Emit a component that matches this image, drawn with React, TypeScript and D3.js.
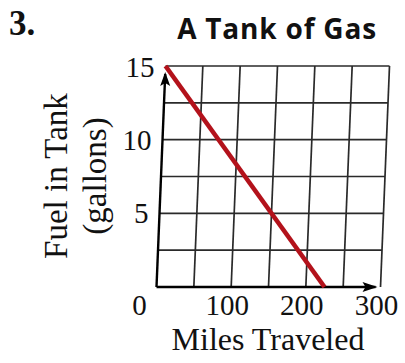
import React from "react";
import * as d3 from "d3";

const milesTicks = [0, 50, 100, 150, 200, 250, 300];
const fuelTicks = [0, 2.5, 5, 7.5, 10, 12.5, 15];
const xTickLabels = [0, 100, 200, 300];
const yTickLabels = [5, 10, 15];
const tankLine = [
  { miles: 0, fuel: 15 },
  { miles: 225, fuel: 0 },
];

const W = 405;
const H = 363;

export default function App() {
  const x = d3.scaleLinear().domain([0, 300]).range([156.5, 380.5]);
  const y = d3.scaleLinear().domain([0, 15]).range([287, 66]);
  const k = 9 / 221; // slight scan skew
  const px = (m: number, f: number) => x(m) + k * (y(0) - y(f));
  const line = d3
    .line<{ miles: number; fuel: number }>()
    .x((d) => px(d.miles, d.fuel))
    .y((d) => y(d.fuel));
  const serif = "'Liberation Serif', 'DejaVu Serif', serif";

  const tipX = px(300, 0) - 5;
  const tipY = y(15) + 6;
  const axTopX = px(0, 15) - 0.3;

  return (
    <svg width={W} height={H} viewBox={`0 0 ${W} ${H}`} style={{ display: "block", position: "absolute", left: 0, top: 0, background: "#fff" }}>
      <rect width={W} height={H} fill="#fff" />
      <text x={9} y={35} fontFamily={serif} fontWeight="bold" fontSize={35} fill="#111">3.</text>
      <text x={277} y={39} textAnchor="middle" fontFamily="'Open Sans', sans-serif" fontWeight="bold" fontSize={28} letterSpacing={0.8} fill="#111">A Tank of Gas</text>

      {/* grid */}
      <g stroke="#2a2a2a" strokeWidth={1.7} fill="none">
        {fuelTicks.slice(1).map((f) => (
          <line key={"h" + f} x1={px(0, f)} x2={px(300, f)} y1={y(f)} y2={y(f)} />
        ))}
        {milesTicks.slice(1).map((m) => (
          <line key={"v" + m} x1={px(m, 0)} x2={px(m, 15)} y1={y(0)} y2={y(15)} />
        ))}
      </g>

      {/* axes */}
      <g stroke="#000" strokeWidth={2.4} fill="none">
        <line x1={px(0, 0)} y1={y(0)} x2={tipX} y2={y(0)} />
        <line x1={px(0, 0)} y1={y(0)} x2={axTopX} y2={tipY + 2} />
      </g>
      <path d={`M${tipX + 2},${y(0)} l-15,-5 l3,5 l-3,5 z`} fill="#000" />
      <path d={`M${axTopX},${tipY} l-5,14 l5,-3 l5,3 z`} fill="#000" />

      {/* data line */}
      <path d={line(tankLine) || ""} fill="none" stroke="#b3121b" strokeWidth={4.6} strokeLinecap="butt" />

      {/* tick labels */}
      <g fontFamily={serif} fontSize={29} fill="#111">
        {yTickLabels.map((f) => (
          <text key={"yl" + f} x={px(0, f) - 11} y={y(f) + (f === 15 ? 11 : 10)} textAnchor="end">{f}</text>
        ))}
        {xTickLabels.map((m) => (
          <text key={"xl" + m} x={x(m) - (m === 0 ? 17 : 4)} y={315} textAnchor="middle">{m}</text>
        ))}
      </g>

      <text x={268} y={350} textAnchor="middle" fontFamily={serif} fontSize={32} fill="#111">Miles Traveled</text>
      <g fontFamily={serif} fontSize={33} fill="#111">
        <text transform={`translate(67,176) rotate(-90)`} textAnchor="middle">Fuel in Tank</text>
        <text transform={`translate(106,176) rotate(-90)`} textAnchor="middle">(gallons)</text>
      </g>
    </svg>
  );
}
